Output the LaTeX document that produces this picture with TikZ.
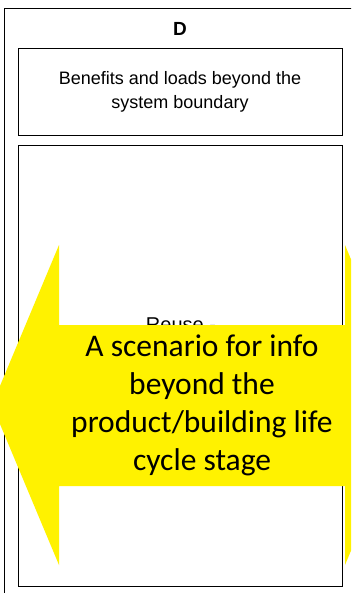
\documentclass[tikz,border=0pt]{standalone}
\usepackage{fontspec}
\setmainfont{Liberation Sans}
\newfontfamily\calibrifont{Carlito}
\usetikzlibrary{positioning,shadows}

\begin{document}
\begin{tikzpicture}[
    x=1pt, y=-1pt,
    box/.style={draw, fill=white, line width=0.9pt, inner sep=0pt, align=center,
        drop shadow={shadow xshift=1.2pt, shadow yshift=-1.2pt, fill=gray!70, opacity=1},
        font=\fontsize{18}{24}\selectfont},
    title/.style={font=\fontsize{19}{22}\selectfont\bfseries},
    note/.style={align=center, inner sep=0pt, font=\calibrifont\fontsize{31.5}{38}\selectfont}
]
\clip (0,0) rectangle (351,593);
% outer column frame
\draw[line width=0.8pt] (4,8) rectangle (420,640);
\node[title] (dtitle) at (180,29) {D};
\node[box, minimum width=324pt, minimum height=87pt] (boundary) at (180,91.5)
    {Benefits and loads beyond the\\system boundary};
\node[box, minimum width=324pt, minimum height=441pt] (module) at (180,365.5) {};
\node[font=\fontsize{20}{24}\selectfont, anchor=base] (reuse) at (181,331) {Reuse -};
% yellow double arrow
\fill[yellow] (-8,405) -- (59,245) -- (59,325) -- (345,325) -- (345,245) -- (412,405)
    -- (345,565) -- (345,486) -- (59,486) -- (59,565) -- cycle;
\node[note] (scenario) at (202,405)
    {A scenario for info\\beyond the\\product/building life\\cycle stage};
\end{tikzpicture}
\end{document}
